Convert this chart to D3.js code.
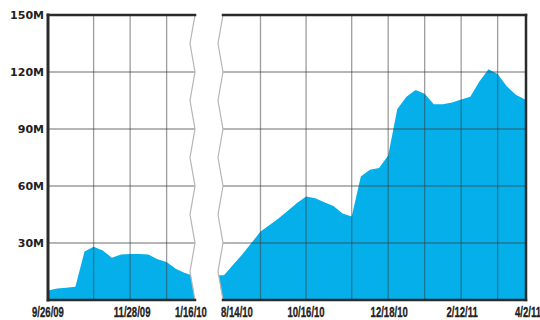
<!DOCTYPE html>
<html>
<head>
<meta charset="utf-8">
<script src="https://cdn.jsdelivr.net/npm/d3@7/dist/d3.min.js"></script>
<style>
  html, body { margin: 0; padding: 0; background: #fff; }
  svg { display: block; }
  .ylab { font-family: "DejaVu Sans", sans-serif; font-weight: bold; font-size: 11px; fill: #222; }
  .xlab { font-family: "Liberation Sans", Arial, sans-serif; font-weight: bold; font-size: 14.5px; fill: #222; stroke: #222; stroke-width: 0.3px; }
</style>
</head>
<body>
<svg id="chart" width="540" height="320"></svg>
<script>
// Weekly totals (millions), two separated periods
const leftStart = "2009-09-26";
const leftValues = [5, 6, 6.5, 7, 25.5, 28, 26, 22.3, 24, 24.2, 24.2, 24, 21.5, 20, 16.5, 14.2, 12.6];
const rightStart = "2010-08-14";
const rightValues = [13, 18.5, 24, 30, 36, 39.5, 43, 47, 51, 54.5, 53.5, 51.5, 49.5, 45.5, 44,
                     65, 68.5, 69.5, 76, 100.5, 107, 110.5, 108.5, 103, 103, 104, 105.5, 107,
                     115, 121.5, 119, 112.5, 108, 105.5];

const yTicks = [0, 30, 60, 90, 120, 150];
const leftGrid = ["2009-10-31", "2009-11-28", "2009-12-26"];
const rightGrid = ["2010-09-11", "2010-10-16", "2010-11-20", "2010-12-18", "2011-01-15", "2011-02-12", "2011-03-12"];
const leftLabels = ["2009-09-26", "2009-11-28", "2010-01-16"];
const rightLabels = ["2010-08-14", "2010-10-16", "2010-12-18", "2011-02-12", "2011-04-02"];

const parse = d3.utcParse("%Y-%m-%d");
const fmt = d => (d.getUTCMonth() + 1) + "/" + d.getUTCDate() + "/" + String(d.getUTCFullYear()).slice(2);
const weekly = (start, values) => values.map((v, i) => ({ date: d3.utcDay.offset(parse(start), 7 * i), v }));
const leftData = weekly(leftStart, leftValues);
const rightData = weekly(rightStart, rightValues);

const svg = d3.select("#chart");
const yTop = 15, yBottom = 300;
const y = d3.scaleLinear().domain([0, 150]).range([yBottom, yTop]);

const xL = d3.scaleUtc().domain([leftData[0].date, leftData[leftData.length - 1].date]).range([48, 194]);
const xR = d3.scaleUtc().domain([rightData[0].date, rightData[rightData.length - 1].date]).range([224, 525]);

const leftX0 = 48, leftEdge = 195, rightEdge = 223, rightX1 = 526, zig = 5;

// zigzag break line: points at gridline heights and halfway between
function zigPoints(edge) {
  const pts = [];
  for (let i = yTicks.length - 1; i >= 0; i--) {
    const yy = y(yTicks[i]);
    pts.push([edge, yy]);
    if (i > 0) pts.push([edge - zig, (yy + y(yTicks[i - 1])) / 2]);
  }
  return pts; // top to bottom
}
const zigL = zigPoints(leftEdge);
const zigR = zigPoints(rightEdge);

const defs = svg.append("defs");
defs.append("clipPath").attr("id", "clipL").append("polygon")
  .attr("points", [[leftX0, yTop], ...zigL, [leftX0, yBottom]].map(p => p.join(",")).join(" "));
defs.append("clipPath").attr("id", "clipR").append("polygon")
  .attr("points", [...zigR, [rightX1, yBottom], [rightX1, yTop]].map(p => p.join(",")).join(" "));

const blue = "#05b0ea";

function panel(clipId, x, data, grid, padLeft) {
  const g = svg.append("g").attr("clip-path", `url(#${clipId})`);
  const pts = data.map(d => [x(d.date), y(d.v)]);
  // carry the first value out to the panel's torn edge
  if (padLeft) pts.unshift([x.range()[0] - 10, y(data[0].v)]);
  const area = d3.area().x(p => p[0]).y0(y(0)).y1(p => p[1]);
  g.append("path").attr("d", area(pts)).attr("fill", blue);

  const gridG = g.append("g").attr("stroke", "#3c3c3c").attr("stroke-opacity", 0.5).attr("stroke-width", 1.3);
  gridG.selectAll("line.h").data(yTicks.slice(1, -1)).join("line")
    .attr("x1", 0).attr("x2", 540).attr("y1", d => y(d)).attr("y2", d => y(d));
  gridG.selectAll("line.v").data(grid.map(parse)).join("line")
    .attr("x1", d => x(d)).attr("x2", d => x(d)).attr("y1", yTop).attr("y2", yBottom);
}
panel("clipL", xL, leftData, leftGrid, false);
panel("clipR", xR, rightData, rightGrid, true);

// torn edges
const zigLine = d3.line();
svg.append("path").attr("d", zigLine(zigL)).attr("fill", "none").attr("stroke", "#b5b5b5").attr("stroke-width", 1.2);
svg.append("path").attr("d", zigLine(zigR)).attr("fill", "none").attr("stroke", "#b5b5b5").attr("stroke-width", 1.2);

// frame
const frame = svg.append("g").attr("stroke", "#2a2a2a").attr("stroke-linecap", "square");
frame.append("line").attr("x1", leftX0).attr("x2", leftEdge).attr("y1", yTop).attr("y2", yTop).attr("stroke-width", 2.5);
frame.append("line").attr("x1", rightEdge).attr("x2", rightX1).attr("y1", yTop).attr("y2", yTop).attr("stroke-width", 2.5);
frame.append("line").attr("x1", leftX0).attr("x2", leftEdge).attr("y1", yBottom).attr("y2", yBottom).attr("stroke-width", 2.5);
frame.append("line").attr("x1", rightEdge).attr("x2", rightX1).attr("y1", yBottom).attr("y2", yBottom).attr("stroke-width", 2.5);
frame.append("line").attr("x1", leftX0).attr("x2", leftX0).attr("y1", yTop).attr("y2", yBottom).attr("stroke-width", 3);
frame.append("line").attr("x1", rightX1).attr("x2", rightX1).attr("y1", yTop).attr("y2", yBottom).attr("stroke-width", 2.5);

// y axis labels
const yAxis = d3.axisLeft(y).tickValues(yTicks.slice(1)).tickFormat(d => d + "M").tickSize(0).tickPadding(4);
const ya = svg.append("g").attr("transform", `translate(${leftX0},0)`).call(yAxis);
ya.select(".domain").remove();
ya.selectAll("text").attr("class", "ylab").attr("font-family", null).attr("font-size", null).attr("fill", null);

// date labels, set in a narrowed face
function dateLabels(x, dates, nudge) {
  svg.append("g").selectAll("text").data(dates.map(parse)).join("text")
    .attr("class", "xlab")
    .attr("transform", (d, i) => `translate(${x(d) + (nudge[i] || 0)},317) scale(0.66,1)`)
    .attr("text-anchor", "middle")
    .text(fmt);
}
dateLabels(xL, leftLabels, [0, 2, -3]);
dateLabels(xR, rightLabels, [13, 0, 1, 1, 3]);
</script>
</body>
</html>
